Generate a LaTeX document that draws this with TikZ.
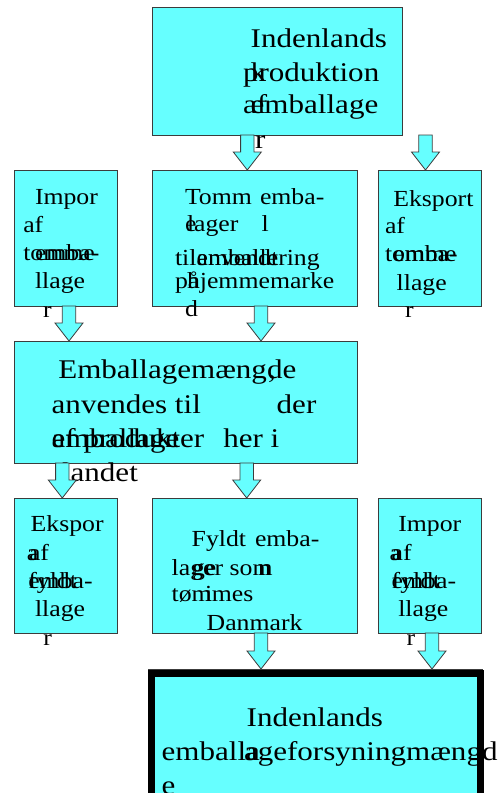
\documentclass[tikz,border=0pt]{standalone}
\usepackage{fontspec}
\newfontfamily\bigf[FakeStretch=1.15]{Liberation Serif}
\newfontfamily\smallf[FakeStretch=1.12]{Liberation Serif}
\definecolor{boxcyan}{RGB}{102,255,255}
\definecolor{edge}{RGB}{60,60,60}
\newcommand\dnarrow[4]{% name, cx, ytop, ybot
  \coordinate (#1) at (#2,#3);
  \filldraw[blockarrow] (#2-6.7,#3) -- (#2+6.7,#3) -- (#2+6.7,#4-18) -- (#2+14,#4-18)
    -- (#2,#4) -- (#2-14,#4-18) -- (#2-6.7,#4-18) -- cycle;}
\tikzset{
  box/.style={draw=edge, fill=boxcyan, line width=1pt, rectangle, inner sep=0pt, outer sep=0pt, anchor=north west},
  bigtxt/.style={font=\bigf\fontsize{27}{27}\selectfont, anchor=base west, inner sep=0pt, outer sep=0pt},
  smalltxt/.style={font=\smallf\fontsize{23}{23}\selectfont, anchor=base west, inner sep=0pt, outer sep=0pt},
  blockarrow/.style={draw=edge, fill=boxcyan, line width=0.8pt, line join=miter}
}
\begin{document}
\begin{tikzpicture}[x=1pt,y=-1pt]
\useasboundingbox (0,0) rectangle (498,793);
% boxes
\node[box, minimum width=250pt, minimum height=128pt] (top) at (152,7) {};
\node[box, minimum width=103pt, minimum height=136pt] (l2) at (14,170) {};
\node[box, minimum width=205pt, minimum height=136pt] (m2) at (152,170) {};
\node[box, minimum width=103pt, minimum height=136pt] (r2) at (378,170) {};
\node[box, minimum width=343pt, minimum height=122pt] (b3) at (14,341) {};
\node[box, minimum width=103pt, minimum height=135pt] (l4) at (14,498) {};
\node[box, minimum width=205pt, minimum height=135pt] (m4) at (152,498) {};
\node[box, minimum width=103pt, minimum height=135pt] (r4) at (378,498) {};
\draw[edge, line width=0.8pt] (148,669.5) -- (483.3,669.5);
\node[box, draw=black, line width=6.7pt, minimum width=328.8pt, minimum height=140pt] (bot) at (151.7,673.3) {};
% top box text
\node[bigtxt] (t1) at (250.7,47.3) {Indenlands};
\node[bigtxt] (t2) at (243,81.7) {produktion};
\node[bigtxt] (t3) at (250.7,81.7) {k};
\node[bigtxt] (t4) at (243,113.3) {af};
\node[bigtxt] (t5) at (250.7,113.3) {emballage};
\node[bigtxt] (t6) at (255,148) {r};
% left row 2
\node[smalltxt] (a1) at (35,204.3) {Impor};
\node[smalltxt] (a2) at (23.3,232.3) {af};
\node[smalltxt] (a3) at (23.3,260) {tomme};
\node[smalltxt] (a4) at (35,260) {emba-};
\node[smalltxt] (a5) at (35,288.3) {llage};
\node[smalltxt] (a6) at (43,317.7) {r};
% middle row 2
\node[smalltxt] (b1) at (185,204.3) {Tomm};
\node[smalltxt] (b2) at (260,204.3) {emba-};
\node[smalltxt] (b3a) at (185,231.7) {e};
\node[smalltxt] (b4) at (187,231.7) {lager};
\node[smalltxt] (b5) at (261.7,231.7) {l};
\node[smalltxt] (b6) at (175,265) {til};
\node[smalltxt] (b7) at (196.7,265) {emballering};
\node[smalltxt] (b8) at (196.7,265) {anvendt};
\node[smalltxt] (b9) at (175,288.3) {på};
\node[smalltxt] (b10) at (187,288.3) {hjemmemarke};
\node[smalltxt] (b11) at (185,316.7) {d};
% right row 2
\node[smalltxt] (c1) at (393.3,206.7) {Eksport};
\node[smalltxt] (c2) at (385,233.3) {af};
\node[smalltxt] (c3) at (385,261.7) {tomme};
\node[smalltxt] (c4) at (393.3,261.7) {emba-};
\node[smalltxt] (c5) at (396.7,290) {llage};
\node[smalltxt] (c6) at (405,317.7) {r};
% box 3
\node[bigtxt] (d1) at (58.3,378.3) {Emballagemængde};
\node[bigtxt] (d2) at (268,378.3) {,};
\node[bigtxt] (d3) at (51.7,413.3) {anvendes til};
\node[bigtxt] (d4) at (276.7,413.3) {der};
\node[bigtxt] (d5) at (51.7,447) {emballage};
\node[bigtxt] (d6) at (51.7,447) {af produkter};
\node[bigtxt] (d7) at (223.3,447) {her i};
\node[bigtxt] (d8) at (62,481.7) {landet};
% left row 4
\node[smalltxt] (e1) at (30.7,531.7) {Ekspor};
\node[smalltxt] (e2) at (27,560) {a};
\node[smalltxt] (e3) at (29,560) {af};
\node[smalltxt] (e4) at (28.3,588.3) {fyldt};
\node[smalltxt] (e5) at (28.3,588.3) {emba-};
\node[smalltxt] (e6) at (35,616.7) {llage};
\node[smalltxt] (e7) at (43.3,645) {r};
% middle row 4
\node[smalltxt] (f1) at (191.7,546.7) {Fyldt};
\node[smalltxt] (f2) at (255,546.7) {emba-};
\node[smalltxt] (f3) at (171.7,575) {lager som};
\node[smalltxt] (f4) at (192,575) {ge};
\node[smalltxt] (f5) at (258,575) {n};
\node[smalltxt] (f6) at (171.7,601.7) {tømmes};
\node[smalltxt] (f7) at (205,601.7) {i};
\node[smalltxt] (f8) at (206.7,630) {Danmark};
% right row 4
\node[smalltxt] (g1) at (398.3,531.7) {Impor};
\node[smalltxt] (g2) at (389.7,560) {a};
\node[smalltxt] (g3) at (391.7,560) {af};
\node[smalltxt] (g4) at (391.7,588.3) {fyldt};
\node[smalltxt] (g5) at (391.7,588.3) {emba-};
\node[smalltxt] (g6) at (398.3,616.7) {llage};
\node[smalltxt] (g7) at (406.7,645) {r};
% bottom box
\node[bigtxt] (h1) at (246.7,726.7) {Indenlands};
\node[bigtxt] (h2) at (161.7,760) {emballa};
\node[bigtxt] (h3) at (244,760) {ageforsyningmængd};
\node[bigtxt] (h4) at (161.7,794) {e};
% arrows
\dnarrow{ar1}{247.3}{135}{170}
\dnarrow{ar2}{425.5}{135}{170}
\dnarrow{ar3}{69}{306}{341}
\dnarrow{ar4}{261}{306}{341}
\dnarrow{ar5}{62.3}{463}{498}
\dnarrow{ar6}{246.7}{463}{498}
\dnarrow{ar7}{261}{633}{669}
\dnarrow{ar8}{432}{633}{669}
\end{tikzpicture}
\end{document}
